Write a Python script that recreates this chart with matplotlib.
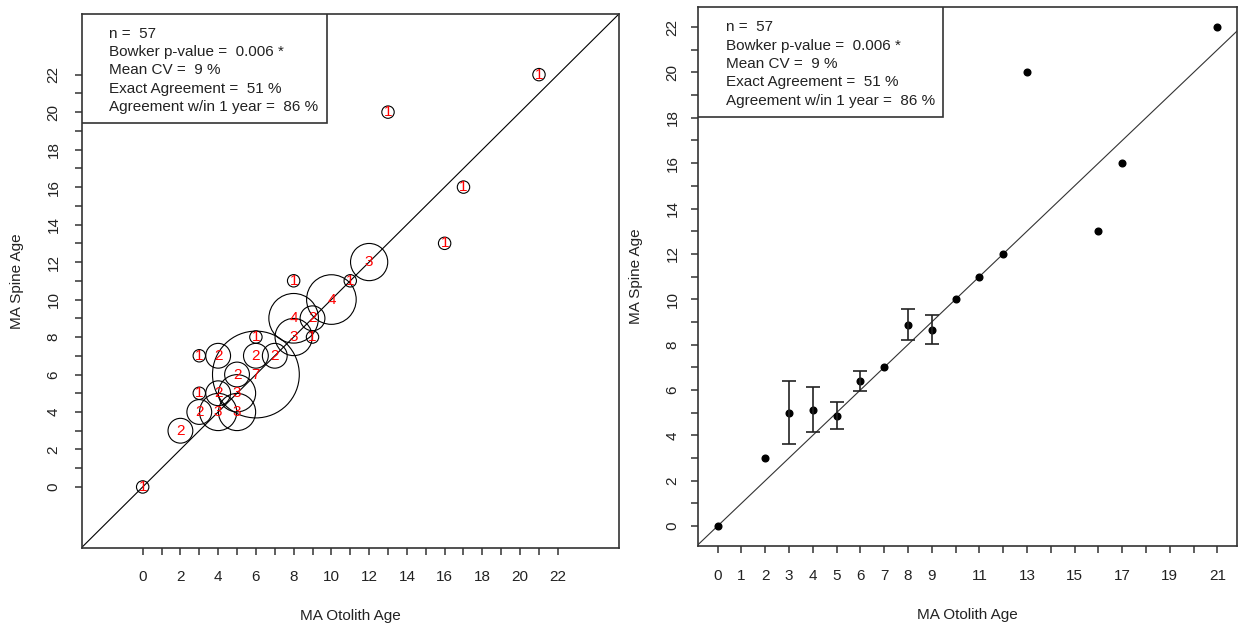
import numpy as np
import matplotlib
matplotlib.use('Agg')
import matplotlib.pyplot as plt
from matplotlib.patches import Rectangle

plt.rcParams['font.family'] = ['Liberation Sans', 'DejaVu Sans']

# age pairs (otolith, spine) and how many fish fall on each pair
oto = [0, 2, 3, 3, 3, 4, 4, 4, 5, 5, 5, 6, 6, 6, 7, 8, 8, 8, 9, 9, 10, 11, 12, 13, 16, 17, 21]
spine = [0, 3, 4, 5, 7, 4, 5, 7, 4, 5, 6, 6, 7, 8, 7, 8, 9, 11, 8, 9, 10, 11, 12, 20, 13, 16, 22]
count = [1, 2, 2, 1, 1, 3, 2, 2, 3, 3, 2, 7, 2, 1, 2, 3, 4, 1, 1, 2, 4, 1, 3, 1, 1, 1, 1]

# mean spine age for each otolith age, with 95% CI
oto_age = [0, 2, 3, 4, 5, 6, 7, 8, 9, 10, 11, 12, 13, 16, 17, 21]
mean_spine = [0, 3, 5.0, 5.14, 4.875, 6.4, 7, 8.875, 8.667, 10, 11, 12, 20, 13, 16, 22]
ci_low = [0, 3, 3.61, 4.15, 4.30, 5.97, 7, 8.19, 8.01, 10, 11, 12, 20, 13, 16, 22]
ci_high = [0, 3, 6.39, 6.14, 5.45, 6.83, 7, 9.56, 9.32, 10, 11, 12, 20, 13, 16, 22]

stats = ['n =  57', 'Bowker p-value =  0.006 *', 'Mean CV =  9 %',
         'Exact Agreement =  51 %', 'Agreement w/in 1 year =  86 %']

left_xticks = list(range(0, 23))
left_xlabels = [str(v) if v % 2 == 0 else '' for v in left_xticks]
left_yticks = list(range(0, 23))
left_ylabels = [str(v) if v % 2 == 0 else '' for v in left_yticks]
right_xticks = list(range(0, 22))
right_xlabels = ['0', '1', '2', '3', '4', '5', '6', '7', '8', '9', '', '11', '',
                 '13', '', '15', '', '17', '', '19', '', '21']
right_yticks = list(range(0, 23))
right_ylabels = [str(v) if v % 2 == 0 else '' for v in right_yticks]

FS = 11
EDGE = '#333333'


def style_axes(ax, xt, xl, yt, yl, ypad):
    for s in ax.spines.values():
        s.set_color(EDGE)
        s.set_linewidth(1.2)
    ax.set_xticks(xt)
    ax.set_xticklabels(xl)
    ax.set_yticks(yt)
    ax.set_yticklabels(yl)
    ax.tick_params(direction='out', length=5, width=1.1, color=EDGE,
                   labelsize=FS, labelcolor='#222222')
    ax.tick_params(axis='x', pad=11)
    ax.tick_params(axis='y', pad=ypad, labelrotation=90)
    for lbl in ax.get_yticklabels():
        lbl.set_va('center')
    ax.set_xlabel('MA Otolith Age', fontsize=FS, labelpad=18, color='#222222')
    ax.set_ylabel('MA Spine Age', fontsize=FS, labelpad=16, color='#222222')


def stats_box(ax, width, bottom):
    ax.add_patch(Rectangle((0, bottom), width, 1 - bottom, transform=ax.transAxes,
                           facecolor='white', edgecolor=EDGE, lw=1.2, zorder=5))
    ys = [0.963, 0.928, 0.894, 0.860, 0.826]
    for y, s in zip(ys, stats):
        ax.text(0.052, y, s, transform=ax.transAxes, fontsize=FS,
                va='center', ha='left', color='#222222', zorder=6)


fig = plt.figure(figsize=(12.39, 6.24), dpi=100)

# bubble plot of paired ages
ax1 = fig.add_axes([0.0658, 0.1223, 0.4338, 0.8554])
lim = (-3.24, 25.24)
ax1.set_xlim(lim)
ax1.set_ylim(lim)
ax1.plot(lim, lim, color='black', lw=0.8)
r_pt = np.array(count) * 6.2 * 0.72
ax1.scatter(oto, spine, s=(2 * r_pt) ** 2, facecolors='none', edgecolors='black',
            linewidths=0.8, zorder=3)
for x, y, n in zip(oto, spine, count):
    ax1.text(x, y, str(n), color='red', fontsize=FS, ha='center', va='center', zorder=4)
style_axes(ax1, left_xticks, left_xlabels, left_yticks, left_ylabels, 10)
stats_box(ax1, 0.456, 0.795)

# mean spine age vs otolith age
ax2 = fig.add_axes([0.563, 0.1242, 0.4357, 0.8651])
ax2.set_xlim(-0.84, 21.84)
ax2.set_ylim(-0.9, 22.9)
ax2.plot([-1, 23], [-1, 23], color='#333333', lw=0.8)
ax2.plot(oto_age, mean_spine, 'o', color='black', ms=4.8, zorder=3)
# error bars only where the interval has some width
m = np.array(mean_spine)
lo = np.array(ci_low)
hi = np.array(ci_high)
keep = hi > lo
ax2.errorbar(np.array(oto_age)[keep], m[keep], yerr=[m[keep] - lo[keep], hi[keep] - m[keep]],
             fmt='none', ecolor='#222222', elinewidth=1.2, capsize=5, capthick=1.2, zorder=3)
style_axes(ax2, right_xticks, right_xlabels, right_yticks, right_ylabels, 8)
stats_box(ax2, 0.4548, 0.7962)

plt.savefig('out.png', dpi=100)
